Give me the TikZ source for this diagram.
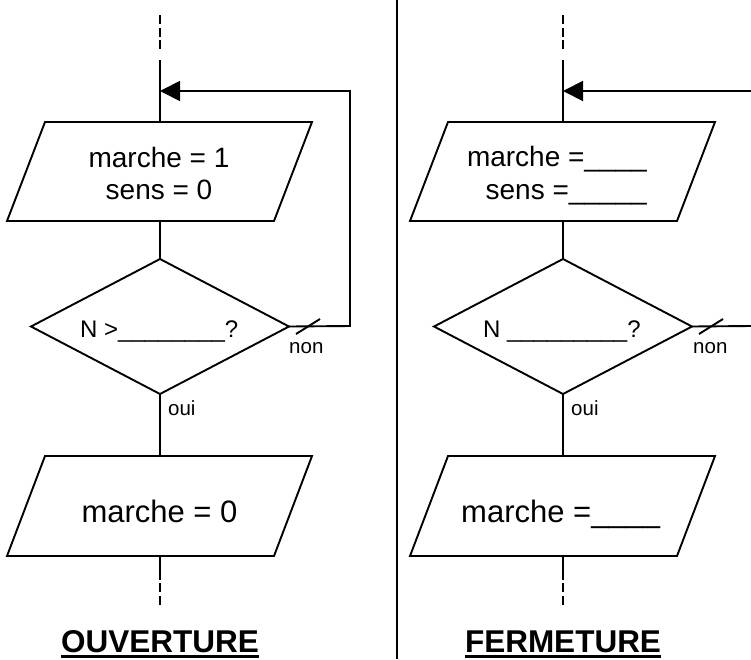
\documentclass[tikz,border=0pt]{standalone}
\usepackage{fontspec}
\setmainfont{Liberation Sans}
\usetikzlibrary{arrows.meta,shapes.geometric}
\begin{document}
\begin{tikzpicture}[x=1pt,y=-1pt,
  ln/.style={line width=1.9pt},
  shp/.style={line width=1.9pt, line join=miter},
  dsh/.style={line width=1.9pt, dash pattern=on 9pt off 3.5pt},
  dia/.style={draw, diamond, line width=1.9pt, minimum width=258pt, minimum height=135pt, inner sep=0pt, outer sep=0pt},
  txtA/.style={font=\fontsize{28}{32}\selectfont, inner sep=0pt},
  txtB/.style={font=\fontsize{31}{36}\selectfont, inner sep=0pt},
  txtD/.style={font=\fontsize{24}{28}\selectfont, inner sep=0pt},
  lbl/.style={font=\fontsize{20.5}{24}\selectfont, inner sep=0pt},
  ttl/.style={font=\fontsize{31.5}{36}\selectfont\bfseries, inner sep=0pt},
  back/.style={line width=1.9pt, -{Triangle[length=20pt,width=20pt]}},
]
\useasboundingbox (0,0) rectangle (751,659);

% separator
\coordinate (S1) at (397,0);
\coordinate (S2) at (397,659);
\draw[line width=2pt] (S1) -- (S2);

% ================= LEFT: OUVERTURE =================
\coordinate (Ltop) at (160,15);
\coordinate (Ldash) at (160,50);
\coordinate (Lsolid) at (160,60);
\coordinate (Ljoin) at (160,91);
\coordinate (LP1n) at (160,122);
\coordinate (LP1s) at (160,221);
\coordinate (LP2n) at (160,456);
\coordinate (LP2s) at (160,556);
\coordinate (Lend) at (160,580);
\coordinate (Ldb) at (160,583);
\coordinate (Lbot) at (160,607);
\coordinate (Lc1) at (350,326);
\coordinate (Lc2) at (350,91);

\draw[dsh] (Ltop) -- (Ldash);
\draw[ln] (Lsolid) -- (LP1n);
\draw[shp] (45,122) -- (312,122) -- (274,221) -- (7,221) -- cycle;
\node[txtA, anchor=base] (Lt1) at (159,167) {marche = 1};
\node[txtA, anchor=base] (Lt2) at (159,199) {sens = 0};
\node[dia] (LD) at (160,326.5) {};
\draw[ln] (LP1s) -- (LD.north);
\node[txtD, anchor=base west] (Lq) at (80,337) {N >\_\_\_\_\_\_\_\_?};
\draw[ln] (LD.south) -- (LP2n);
\node[lbl, anchor=base west] (Loui) at (168,415) {oui};
\draw[back] (LD.east) -- (Lc1) -- (Lc2) -- (Ljoin);
\draw[ln] (296,334) -- (320,319);
\node[lbl, anchor=base west] (Lnon) at (289,353) {non};
\draw[shp] (45,456) -- (312,456) -- (274,556) -- (7,556) -- cycle;
\node[txtB, anchor=base] (Lt3) at (159.5,522) {marche = 0};
\draw[ln] (LP2s) -- (Lend);
\draw[dsh] (Ldb) -- (Lbot);
\node[ttl, anchor=base] (T1) at (160,652) {OUVERTURE};
\draw[line width=3pt] ([yshift=-4.5pt]T1.base west) -- ([yshift=-4.5pt]T1.base east);

% ================= RIGHT: FERMETURE =================
\coordinate (Rtop) at (563,15);
\coordinate (Rdash) at (563,50);
\coordinate (Rsolid) at (563,60);
\coordinate (Rjoin) at (563,91);
\coordinate (RP1n) at (563,122);
\coordinate (RP1s) at (563,221);
\coordinate (RP2n) at (563,456);
\coordinate (RP2s) at (563,556);
\coordinate (Rend) at (563,580);
\coordinate (Rdb) at (563,583);
\coordinate (Rbot) at (563,607);
\coordinate (Rin) at (751,91);
\coordinate (Rout) at (751,326);

\draw[dsh] (Rtop) -- (Rdash);
\draw[ln] (Rsolid) -- (RP1n);
\draw[shp] (448,122) -- (715,122) -- (677,221) -- (410,221) -- cycle;
\node[txtA, anchor=base east] (Rt1) at (647,166) {marche =\_\_\_\_};
\node[txtA, anchor=base east] (Rt2) at (647,199) {sens =\_\_\_\_\_};
\node[dia] (RD) at (563,326.5) {};
\draw[ln] (RP1s) -- (RD.north);
\node[txtD, anchor=base west] (Rq) at (483,337) {N \_\_\_\_\_\_\_\_\_?};
\draw[ln] (RD.south) -- (RP2n);
\node[lbl, anchor=base west] (Roui) at (571,415) {oui};
\draw[back] (Rin) -- (Rjoin);
\draw[ln] (RD.east) -- (Rout);
\draw[ln] (699,334) -- (723,319);
\node[lbl, anchor=base west] (Rnon) at (693,353) {non};
\draw[shp] (448,456) -- (715,456) -- (677,556) -- (410,556) -- cycle;
\node[txtB, anchor=base west] (Rt3) at (461,522) {marche =\_\_\_\_};
\draw[ln] (RP2s) -- (Rend);
\draw[dsh] (Rdb) -- (Rbot);
\node[ttl, anchor=base] (T2) at (563,652) {FERMETURE};
\draw[line width=3pt] ([yshift=-4.5pt]T2.base west) -- ([yshift=-4.5pt]T2.base east);
\end{tikzpicture}
\end{document}
